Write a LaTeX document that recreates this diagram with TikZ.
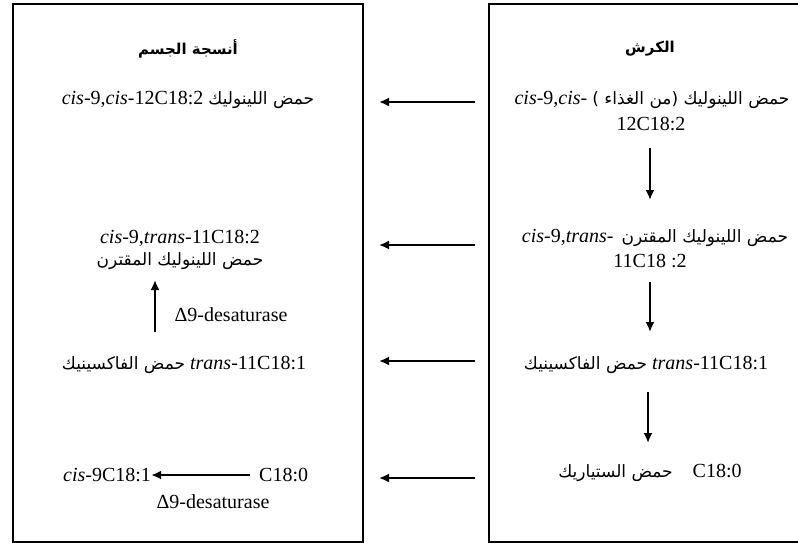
\documentclass[tikz,border=0pt]{standalone}
\usepackage{fontspec}
\setmainfont{Liberation Serif}[ItalicFont={Liberation Serif Italic},BoldFont={Liberation Serif Bold}]
\newfontfamily\arabicfont[Script=Arabic]{DejaVu Sans}
\TeXXeTstate=1
\usetikzlibrary{arrows.meta}
\newcommand\artxt[1]{{\arabicfont\fontsize{17}{21}\selectfont\beginR #1\endR}}
\newcommand\artitle[1]{{\arabicfont\bfseries\fontsize{15}{18}\selectfont\beginR #1\endR}}
\newcommand\itx[1]{{\itshape #1}}
\tikzset{
  txt/.style={inner sep=0pt, font=\fontsize{20}{24}\selectfont},
  boxline/.style={line width=2.4pt},
  arr/.style={line width=2pt, -{Latex[length=10pt,width=9pt]}},
}
\begin{document}
\begin{tikzpicture}[x=1pt,y=-1pt]
\useasboundingbox (0,0) rectangle (798,544);
% boxes
\draw[boxline] (13,4) rectangle (363,542);
\draw[boxline] (800,4) -- (489,4) -- (489,542) -- (800,542);

% left box
\node[txt] (lt) at (188,49) {\artitle{أنسجة الجسم}};
\node[txt] (l1) at (188,100) {\itx{cis}-9,\itx{cis}-12C18:2 \artxt{حمض اللينوليك}};
\node[txt] (l2a) at (180,238) {\itx{cis}-9,\itx{trans}-11C18:2};
\node[txt] (l2b) at (180,261) {\artxt{حمض اللينوليك المقترن}};
\node[txt] (ld) at (231,315) {Δ9-desaturase};
\node[txt] (l3) at (184,365) {\artxt{حمض الفاكسينيك} \itx{trans}-11C18:1};
\node[txt, anchor=west] (l4a) at (63,475) {\itx{cis}-9C18:1};
\node[txt, anchor=west] (l4b) at (259,475) {C18:0};
\node[txt] (l4d) at (213,502) {Δ9-desaturase};
\coordinate (lua) at (155,332);
\coordinate (lub) at (155,280);
\draw[arr] (lua) -- (lub);
\draw[arr, shorten <=9pt] (l4b.west) -- (l4a.east);

% right box
\node[txt] (rt) at (650,49) {\artitle{الكرش}};
\node[txt] (r1a) at (652,100) {\itx{cis}-9,\itx{cis}- \artxt{حمض اللينوليك (من الغذاء )}};
\node[txt] (r1b) at (651,124) {12C18:2};
\node[txt] (r2a) at (655,238) {\itx{cis}-9,\itx{trans}-\hspace{8pt}\artxt{حمض اللينوليك المقترن}};
\node[txt] (r2b) at (650,261) {11C18 :2};
\node[txt] (r3) at (646,365) {\artxt{حمض الفاكسينيك} \itx{trans}-11C18:1};
\node[txt] (r4) at (650,473) {\artxt{حمض الستياريك}\hspace{20pt}C18:0};
\coordinate (ra1) at (650,148);
\coordinate (rb1) at (650,200);
\coordinate (ra2) at (650,282);
\coordinate (rb2) at (650,332);
\coordinate (ra3) at (648,392);
\coordinate (rb3) at (648,443);
\draw[arr] (ra1) -- (rb1);
\draw[arr] (ra2) -- (rb2);
\draw[arr] (ra3) -- (rb3);

% between boxes
\foreach \n/\y in {1/102,2/245,3/361,4/478}{
  \coordinate (s\n) at (475,\y);
  \coordinate (t\n) at (379,\y);
  \draw[arr] (s\n) -- (t\n);
}
\end{tikzpicture}
\end{document}
